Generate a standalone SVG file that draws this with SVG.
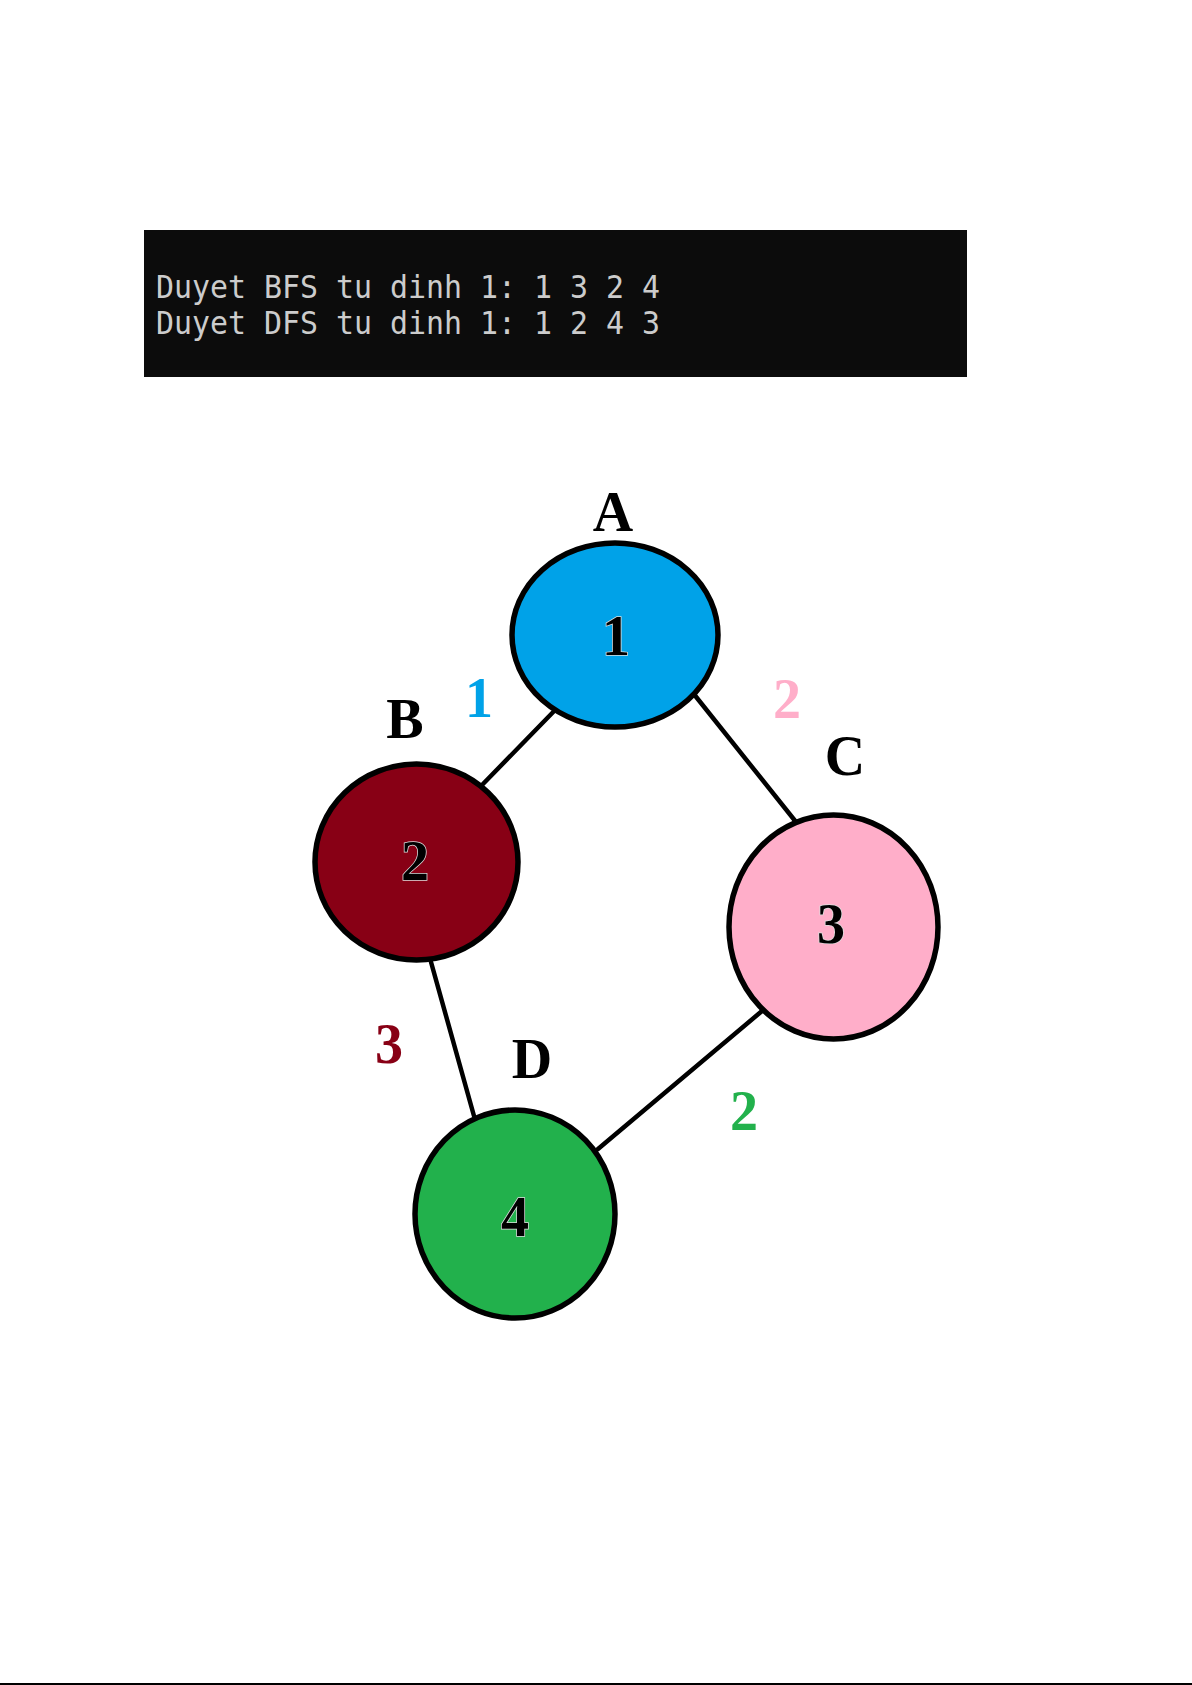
<svg xmlns="http://www.w3.org/2000/svg" width="1192" height="1685" viewBox="0 0 1192 1685">
<style>
.node{stroke:#000;stroke-width:5.5}
.lbl{font-family:"Liberation Serif","Times New Roman",serif;font-weight:bold;font-size:56px;text-anchor:middle;fill:#000}
.num{font-family:"Liberation Serif","Times New Roman",serif;font-weight:bold;font-size:56px;text-anchor:middle;fill:#000;stroke:#ddd;stroke-width:1.5;paint-order:stroke}
.w{font-family:"Liberation Serif","Times New Roman",serif;font-weight:bold;font-size:56px;text-anchor:middle}
.edge{stroke:#000;stroke-width:4.5;stroke-linecap:round}
.term{font-family:"DejaVu Sans Mono","Liberation Mono",monospace;font-size:32px;fill:#CCCCCC}
</style>
<rect width="1192" height="1685" fill="#fff"/>
<g id="terminal">
<rect x="144" y="230" width="823" height="147" fill="#0C0C0C"/>
<text class="term" x="156" y="298" textLength="504" lengthAdjust="spacingAndGlyphs">Duyet BFS tu dinh 1: 1 3 2 4</text>
<text class="term" x="156" y="334" textLength="504" lengthAdjust="spacingAndGlyphs">Duyet DFS tu dinh 1: 1 2 4 3</text>
</g>
<g id="connectors">
<line class="edge" x1="560" y1="705" x2="483" y2="784"/>
<line class="edge" x1="693" y1="693" x2="796" y2="822"/>
<line class="edge" x1="431" y1="962" x2="474" y2="1116"/>
<line class="edge" x1="762" y1="1011" x2="598" y2="1149"/>
<text class="w" x="479" y="717" fill="#00A2E8">1</text>
<text class="w" x="787" y="718" fill="#FFAEC9">2</text>
<text class="w" x="389" y="1063" fill="#880015">3</text>
<text class="w" x="744" y="1130" fill="#22B14C">2</text>
</g>
<g id="nodeA">
<ellipse class="node" cx="615" cy="635" rx="103" ry="92" fill="#00A2E8"/>
<text class="num" x="616" y="655">1</text>
<text class="lbl" x="613" y="531">A</text>
</g>
<g id="nodeB">
<ellipse class="node" cx="416.5" cy="862" rx="101.5" ry="98" fill="#880015"/>
<text class="num" x="415" y="880">2</text>
<text class="lbl" x="405" y="738">B</text>
</g>
<g id="nodeC">
<ellipse class="node" cx="833.5" cy="927" rx="104.5" ry="112" fill="#FFAEC9"/>
<text class="num" x="831" y="943">3</text>
<text class="lbl" x="845" y="775">C</text>
</g>
<g id="nodeD">
<ellipse class="node" cx="515" cy="1214" rx="100" ry="104" fill="#22B14C"/>
<text class="num" x="515" y="1236">4</text>
<text class="lbl" x="532" y="1078">D</text>
</g>
<line x1="0" y1="1684" x2="1192" y2="1684" stroke="#000" stroke-width="2"/>
</svg>
